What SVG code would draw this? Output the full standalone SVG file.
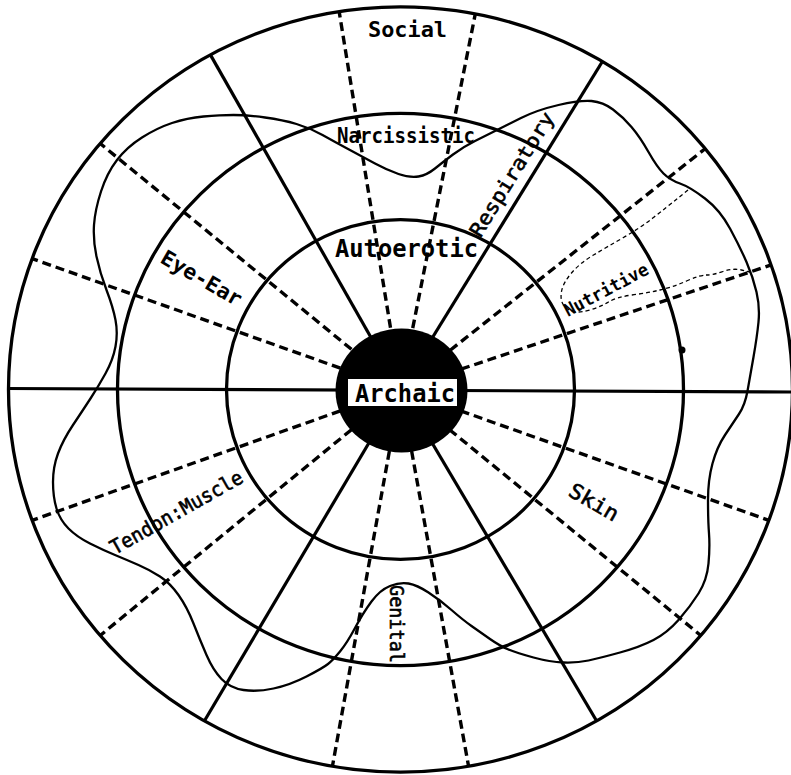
<svg xmlns="http://www.w3.org/2000/svg" width="791" height="775" viewBox="0 0 791 775">
<style>
.ring{fill:none;stroke:#000;stroke-width:3.3}
.solid{stroke:#000;stroke-width:3.2;fill:none}
.dash{stroke:#000;stroke-width:3.4;stroke-dasharray:9 5;fill:none}
.wave{fill:none;stroke:#000;stroke-width:2.3;stroke-linejoin:round}
.thin{fill:none;stroke:#000;stroke-width:1.3;stroke-dasharray:4 3}
.lbl{font-family:"DejaVu Sans Mono","Liberation Mono",monospace;fill:#000}
.b{font-weight:bold}
.m{stroke:#000;stroke-width:0.6}
</style>
<rect width="791" height="775" fill="#fff"/>
<g id="rings" transform="translate(400.5 389.5) scale(1 0.976)">
<circle class="ring" r="392"/>
<circle class="ring" r="283"/>
<circle class="ring" r="174"/>
</g>
<g id="connectors">
<line class="solid" x1="7" y1="388.5" x2="791" y2="392"/>
<g transform="translate(400.5 389.5) scale(1 0.976)">
<line class="solid" x1="60" y1="0" x2="392" y2="0" transform="rotate(-59)"/>
<line class="solid" x1="60" y1="0" x2="392" y2="0" transform="rotate(-119)"/>
<line class="solid" x1="60" y1="0" x2="392" y2="0" transform="rotate(120)"/>
<line class="solid" x1="60" y1="0" x2="392" y2="0" transform="rotate(60)"/>
<line class="dash" x1="64" y1="0" x2="392" y2="0" transform="rotate(-19)"/>
<line class="dash" x1="64" y1="0" x2="392" y2="0" transform="rotate(-39)"/>
<line class="dash" x1="64" y1="0" x2="392" y2="0" transform="rotate(-79)"/>
<line class="dash" x1="64" y1="0" x2="392" y2="0" transform="rotate(-99)"/>
<line class="dash" x1="64" y1="0" x2="392" y2="0" transform="rotate(-140)"/>
<line class="dash" x1="64" y1="0" x2="392" y2="0" transform="rotate(-160)"/>
<line class="dash" x1="64" y1="0" x2="392" y2="0" transform="rotate(160)"/>
<line class="dash" x1="64" y1="0" x2="392" y2="0" transform="rotate(140)"/>
<line class="dash" x1="64" y1="0" x2="392" y2="0" transform="rotate(100)"/>
<line class="dash" x1="64" y1="0" x2="392" y2="0" transform="rotate(80)"/>
<line class="dash" x1="64" y1="0" x2="392" y2="0" transform="rotate(40)"/>
<line class="dash" x1="64" y1="0" x2="392" y2="0" transform="rotate(20)"/>
</g>
</g>
<g id="wave">
<path class="wave" d="M58,453.5 Q63,440 73,425 Q83,410 90.5,398.5 Q98,387 105.5,373.5 Q113,360 115.5,346.5 Q118,333 115.5,320 Q113,307 106.5,290 Q100,273 96.5,256.5 Q93,240 94,225 Q95,210 101,191.5 Q107,173 117,160 Q127,147 142,137.5 Q157,128 172,123 Q187,118 203.5,116.5 Q220,115 233.5,115 Q247,115 265,117.5 Q283,120 296.5,124 Q310,128 322.5,135 Q335,142 349,149.5 Q363,157 375,163.5 Q387,170 398.5,174 Q410,178 418.5,176.5 Q427,175 435,168.5 Q443,162 453,154.5 Q463,147 475,141 Q487,135 496,130.5 Q505,126 521,118 Q537,110 558.5,105 Q580,100 591.5,101 Q603,102 613,109.5 Q623,117 631.5,127 Q640,137 648.5,152 Q657,167 663.5,173.5 Q670,180 680,183.5 Q690,187 705,198.5 Q720,210 730,228.5 Q740,247 746.5,262 Q753,277 756.5,292 Q760,307 758.5,322 Q757,337 753.5,357 Q750,377 747.5,391 Q745,405 739,414 Q733,423 725,435 Q717,447 712.5,463.5 Q708,480 708,500 Q708,520 709,533.5 Q710,547 708.5,563.5 Q707,580 698.5,593.5 Q690,607 678.5,620 Q667,633 653.5,640 Q640,647 620,652.5 Q600,658 588.5,660.5 Q577,663 563.5,662.5 Q550,662 533.5,657.5 Q517,653 508.5,649.5 Q500,646 490,639 Q480,632 471.5,626 Q463,620 451.5,610 Q440,600 428.5,592.5 Q417,585 408.5,583.5 Q400,582 390,586 Q380,590 371.5,601.5 Q363,613 355,628 Q347,643 340,651.5 Q333,660 328,664 Q323,668 306.5,676.5 Q290,685 273.5,688.5 Q257,692 243.5,690 Q230,688 221.5,679 Q213,670 206.5,655 Q200,640 193.5,623.5 Q187,607 178.5,595 Q170,583 160,576.5 Q150,570 138.5,565 Q127,560 115,555 Q103,550 90,543.5 Q77,537 68.5,528.5 Q60,520 56.5,508.5 Q53,497 53,482 Q53,467 58,453.5 Z"/>
<path class="thin" d="M688,190 L677.5,198.5 Q667,207 653.5,217.5 Q640,228 623.5,237.5 Q607,247 593.5,255 Q580,263 571.5,273 Q563,283 561.5,291.5 Q560,300 563.5,305 Q567,310 573.5,311.5 Q580,313 590,310 Q600,307 608.5,302 Q617,297 632,295 Q647,293 660,290 Q673,287 686.5,281 Q700,275 706.5,275 Q713,275 723,271.5 Q733,268 741.5,270 L750,272"/>
<circle cx="682" cy="350" r="3.5" fill="#000"/>
</g>
<g id="archaic">
<ellipse cx="401.5" cy="390.5" rx="66" ry="62" fill="#000"/>
<rect x="348" y="379" width="109" height="27" fill="#fff"/>
<text class="lbl b" x="355" y="402" font-size="24" textLength="100" lengthAdjust="spacingAndGlyphs">Archaic</text>
</g>
<g id="labels">
<text class="lbl b" x="368" y="37" font-size="22" textLength="79" lengthAdjust="spacingAndGlyphs">Social</text>
<text class="lbl b" x="337" y="143" font-size="21" textLength="138" lengthAdjust="spacingAndGlyphs">Narcissistic</text>
<text class="lbl b" x="335" y="257" font-size="24" textLength="143" lengthAdjust="spacingAndGlyphs">Autoerotic</text>
<text class="lbl m" transform="translate(480.5 238.5) rotate(-58.4)" font-size="20" textLength="142" lengthAdjust="spacingAndGlyphs">Respiratory</text>
<text class="lbl b" transform="translate(159 262) rotate(30)" font-size="21" textLength="90" lengthAdjust="spacingAndGlyphs">Eye-Ear</text>
<text class="lbl b" transform="translate(568 317) rotate(-28)" font-size="18" textLength="93" lengthAdjust="spacingAndGlyphs">Nutritive</text>
<text class="lbl m" transform="translate(115 555) rotate(-29.5)" font-size="20" textLength="149" lengthAdjust="spacingAndGlyphs">Tendon:Muscle</text>
<text class="lbl m" transform="translate(567 495) rotate(30)" font-size="21" textLength="54" lengthAdjust="spacingAndGlyphs">Skin</text>
<text class="lbl m" transform="translate(390 585) rotate(90)" font-size="19.5" textLength="78" lengthAdjust="spacingAndGlyphs">Genital</text>
</g>
</svg>
